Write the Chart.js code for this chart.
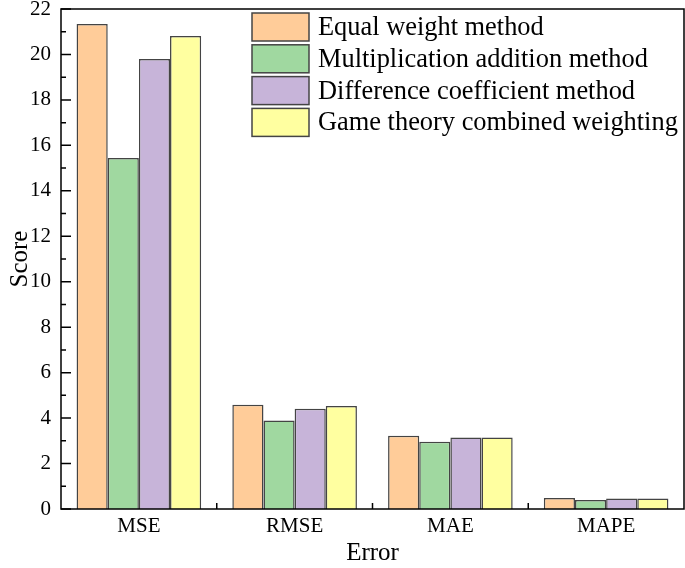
<!DOCTYPE html>
<html>
<head>
<meta charset="utf-8">
<script src="https://cdn.jsdelivr.net/npm/chart.js@4.4.1/dist/chart.umd.min.js"></script>
<style>
    html, body { margin: 0; padding: 0; background: #fff; }
    #grafico-erros { display: block; }
</style>
</head>
<body>
<canvas id="grafico-erros" width="685" height="568"></canvas>
<script>
const categorias = ['MSE', 'RMSE', 'MAE', 'MAPE'];
const nomesMetodos = ['Equal weight method', 'Multiplication addition method', 'Difference coefficient method', 'Game theory combined weighting'];
const pesoIgual = [21.34, 4.59, 3.22, 0.48];
const multiplicacaoAdicao = [15.44, 3.89, 2.96, 0.40];
const coeficienteDiferenca = [19.80, 4.41, 3.15, 0.46];
const teoriaJogos = [20.81, 4.53, 3.15, 0.46];
const ticksY = [0, 2, 4, 6, 8, 10, 12, 14, 16, 18, 20, 22];

const coresMetodos = ['#FFCC99', '#A0D8A0', '#C7B4D9', '#FFFFA0'];
const fonteSerif = '"Liberation Serif", "Times New Roman", serif';

// moldura, ticks para dentro e legenda dentro da area do grafico
const pluginEixos = {
    id: 'eixosOrigin',
    afterDraw(chart) {
        var ctx = chart.ctx;
        var area = chart.chartArea;
        var escalaY = chart.scales.y;
        var escalaX = chart.scales.x;

        ctx.save();
        ctx.strokeStyle = '#000';
        ctx.lineWidth = 1.5;
        ctx.strokeRect(area.left, area.top, area.right - area.left, area.bottom - area.top);

        ctx.beginPath();
        for (let i = 0; i < ticksY.length; i++) {
            var y = escalaY.getPixelForValue(ticksY[i]);
            ctx.moveTo(area.left, y);
            ctx.lineTo(area.left + 10, y);
            if (i < ticksY.length - 1) {
                var yMenor = escalaY.getPixelForValue((ticksY[i] + ticksY[i + 1]) / 2);
                ctx.moveTo(area.left, yMenor);
                ctx.lineTo(area.left + 5, yMenor);
            }
        }
        for (let i = 0; i < categorias.length - 1; i++) {
            var x = (escalaX.getPixelForValue(i) + escalaX.getPixelForValue(i + 1)) / 2;
            ctx.moveTo(x, area.bottom);
            ctx.lineTo(x, area.bottom - 6);
        }
        ctx.stroke();

        // legenda
        ctx.font = '26.4px ' + fonteSerif;
        ctx.textBaseline = 'middle';
        ctx.textAlign = 'left';
        chart.data.datasets.forEach(function(ds, i) {
            var yCentro = area.top + 18 + i * 31.8;
            ctx.fillStyle = ds.backgroundColor;
            ctx.fillRect(252, yCentro - 14, 57, 28);
            ctx.strokeStyle = '#444';
            ctx.lineWidth = 1.5;
            ctx.strokeRect(252, yCentro - 14, 57, 28);
            ctx.fillStyle = '#000';
            ctx.fillText(ds.label, 318, yCentro + 1);
        });
        ctx.restore();
    }
};

function montarDatasets() {
    var series = [pesoIgual, multiplicacaoAdicao, coeficienteDiferenca, teoriaJogos];
    return series.map(function(valores, i) {
        return {
            label: nomesMetodos[i],
            data: valores,
            backgroundColor: coresMetodos[i],
            borderColor: '#444',
            borderWidth: 1.5,
            barPercentage: 1,
            categoryPercentage: 0.8
        };
    });
}

window.onload = function() {
    var ctx = document.getElementById('grafico-erros').getContext('2d');
    window.graficoErros = new Chart(ctx, {
        type: 'bar',
        data: {
            labels: categorias,
            datasets: montarDatasets()
        },
        options: {
            responsive: false,
            animation: false,
            layout: { padding: { top: 9, right: 1, left: 0, bottom: 0 } },
            plugins: {
                legend: { display: false },
                tooltip: { enabled: false }
            },
            scales: {
                x: {
                    grid: { display: false, drawTicks: false },
                    border: { display: false },
                    ticks: { color: '#000', padding: 5, font: { family: fonteSerif, size: 21 } },
                    title: { display: true, text: 'Error', color: '#000', padding: { top: 0, bottom: 0 }, font: { family: fonteSerif, size: 25 } },
                    afterFit: function(escala) {
                        escala.height = 59;
                        escala.paddingLeft = 0;
                        escala.paddingRight = 0;
                    }
                },
                y: {
                    min: 0,
                    max: 22,
                    grid: { display: false, drawTicks: false },
                    border: { display: false },
                    ticks: { stepSize: 2, color: '#000', padding: 10, font: { family: fonteSerif, size: 21 } },
                    title: { display: true, text: 'Score', color: '#000', padding: { top: 5, bottom: 0 }, font: { family: fonteSerif, size: 25 } },
                    afterFit: function(escala) {
                        escala.width = 61;
                        escala.paddingTop = 0;
                        escala.paddingBottom = 0;
                    }
                }
            }
        },
        plugins: [pluginEixos]
    });
}
</script>
</body>
</html>
